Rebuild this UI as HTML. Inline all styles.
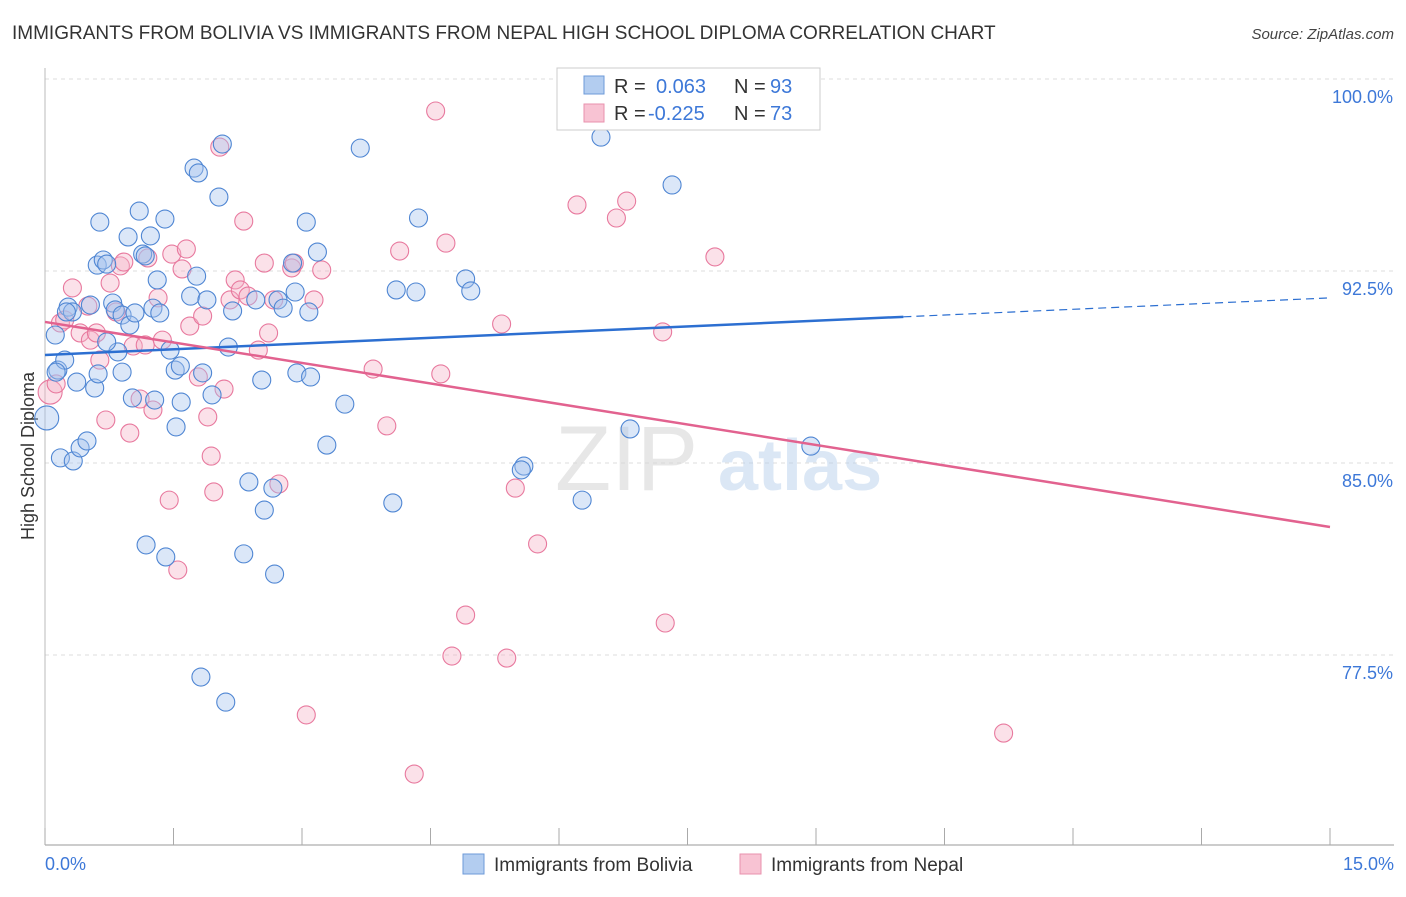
<!DOCTYPE html>
<html><head><meta charset="utf-8">
<style>
body{margin:0;background:#fff;font-family:"Liberation Sans",sans-serif;}
svg text{font-family:"Liberation Sans",sans-serif;}
</style></head>
<body>
<svg id="chart" width="1406" height="892" viewBox="0 0 1406 892" xmlns="http://www.w3.org/2000/svg">
<text x="12" y="39" font-size="19" fill="#333">IMMIGRANTS FROM BOLIVIA VS IMMIGRANTS FROM NEPAL HIGH SCHOOL DIPLOMA CORRELATION CHART</text>
<text x="1394" y="39" font-size="15" fill="#444" text-anchor="end" font-style="italic">Source: ZipAtlas.com</text>
<g id="grid"></g>
<g>
<text x="555" y="490" font-size="92" fill="#d8d8d8" font-family="Liberation Serif,serif" opacity="0.6">ZIP</text>
<text x="718" y="490" font-size="72" fill="#b8d0ec" opacity="0.5" font-weight="bold">atlas</text>
</g>
<line x1="45" y1="845" x2="1394" y2="845" stroke="#999" stroke-width="1"/>
<line x1="45" y1="68" x2="45" y2="845" stroke="#bbb" stroke-width="1"/>
<g id="xticks"></g>
<g id="yticks"></g>
<text transform="translate(34,456) rotate(-90)" font-size="18" fill="#333" text-anchor="middle">High School Diploma</text>
<text x="45" y="870" font-size="18" fill="#3d78d8">0.0%</text>
<text x="1394" y="870" font-size="18" fill="#3d78d8" text-anchor="end">15.0%</text>
<g id="pinkdots"></g>
<g id="bluedots"></g>
<g id="trends"></g>
<g>
<rect x="557" y="68" width="263" height="62" fill="#fff" stroke="#ccc"/>
<rect x="584" y="76" width="20" height="18" fill="#b3cdf0" stroke="#6d9ad8"/>
<rect x="584" y="104" width="20" height="18" fill="#f8c3d3" stroke="#e892ae"/>
<text x="614" y="93" font-size="20" fill="#333">R =</text><text x="656" y="93" font-size="20" fill="#3d78d8">0.063</text>
<text x="734" y="93" font-size="20" fill="#333">N =</text><text x="770" y="93" font-size="20" fill="#3d78d8">93</text>
<text x="614" y="120" font-size="20" fill="#333">R =</text><text x="648" y="120" font-size="20" fill="#3d78d8">-0.225</text>
<text x="734" y="120" font-size="20" fill="#333">N =</text><text x="770" y="120" font-size="20" fill="#3d78d8">73</text>
</g>
<g>
<rect x="463" y="854" width="21" height="20" fill="#b3cdf0" stroke="#6d9ad8"/>
<text x="494" y="871" font-size="19" fill="#333">Immigrants from Bolivia</text>
<rect x="740" y="854" width="21" height="20" fill="#f8c3d3" stroke="#e892ae"/>
<text x="771" y="871" font-size="19" fill="#333">Immigrants from Nepal</text>
</g>
</svg>
<script>
const yTicks = [100.0, 92.5, 85.0, 77.5];
const yTickLabels = ["100.0%", "92.5%", "85.0%", "77.5%"];
const xTickValues = [0,1.5,3,4.5,6,7.5,9,10.5,12,13.5,15];
const boliviaX = [0.02,0.12,0.15,0.23,0.27,0.32,0.37,0.18,0.33,0.41,0.49,0.58,0.64,0.61,0.68,0.72,0.79,0.82,0.85,0.90,0.90,0.97,0.99,1.02,1.05,1.10,1.14,1.17,1.23,1.26,1.28,1.31,1.34,1.40,1.46,1.52,1.53,1.58,1.59,1.70,1.74,1.77,1.79,1.84,1.89,1.95,2.03,2.07,2.14,2.19,2.38,2.46,2.53,2.56,2.66,2.72,2.78,2.89,2.92,2.94,3.08,3.10,3.05,3.18,3.50,3.29,3.68,4.06,4.10,4.33,4.36,4.91,4.97,5.59,5.56,6.27,6.49,6.83,7.32,8.94,1.18,1.41,2.32,2.68,1.82,2.11,0.13,0.25,0.53,0.62,0.72];
const boliviaY = [86.76,90.0,88.63,89.02,91.09,90.90,88.16,85.20,85.08,85.59,85.86,87.93,94.41,92.73,92.93,92.77,91.25,90.98,89.34,88.55,90.78,93.83,90.39,87.54,90.86,94.84,93.16,93.09,93.87,91.05,87.46,92.15,90.86,94.53,89.41,88.63,86.41,88.79,87.38,91.52,96.52,92.30,96.33,88.52,91.37,87.66,95.39,97.46,89.53,90.94,84.26,91.37,88.24,83.16,84.02,91.37,91.05,92.81,91.68,88.52,90.90,88.36,94.41,93.24,87.30,85.70,97.30,83.44,91.76,91.68,94.57,92.19,91.72,84.88,84.73,83.55,97.73,86.33,95.86,85.66,81.80,81.33,81.45,80.66,76.64,75.66,88.55,90.90,91.17,88.48,89.73];
const nepalX = [0.06,0.13,0.18,0.23,0.32,0.41,0.50,0.53,0.60,0.64,0.71,0.76,0.83,0.88,0.92,0.99,1.03,1.11,1.17,1.20,1.26,1.32,1.37,1.45,1.48,1.55,1.60,1.65,1.69,1.79,1.84,1.90,1.94,1.97,2.04,2.09,2.16,2.22,2.28,2.32,2.37,2.49,2.56,2.61,2.67,2.73,2.88,2.91,3.14,3.23,3.05,3.83,3.99,4.14,4.31,4.56,4.62,4.68,4.75,4.91,5.33,5.39,5.49,5.75,6.21,6.67,6.79,7.21,7.24,7.82,11.19,6.43];
const nepalY = [87.77,88.09,90.47,90.59,91.84,90.08,91.13,89.80,90.08,89.02,86.68,92.03,90.90,92.70,92.85,86.17,89.57,87.50,89.61,93.01,87.07,91.45,89.80,83.55,93.16,80.82,92.58,93.36,90.35,88.36,90.74,86.80,85.27,83.87,97.34,87.89,91.37,92.15,91.76,94.45,91.52,89.41,92.81,90.08,91.37,84.18,92.62,92.81,91.37,92.54,75.16,88.67,86.45,93.28,72.85,98.75,88.48,93.59,77.46,79.06,90.43,77.38,84.02,81.84,95.08,94.57,95.23,90.12,78.75,93.05,74.45,99.06];
const boliviaTrend = [89.22, 91.45];
const boliviaSolidEnd = 10.02;
const nepalTrend = [90.51, 82.5];

const NS="http://www.w3.org/2000/svg";
const xs = v => 45 + v/15*1285;
const ys = v => 79 + (100-v)*25.6;
function mk(tag, attrs, parent){const e=document.createElementNS(NS,tag);for(const k in attrs)e.setAttribute(k,attrs[k]);parent.appendChild(e);return e;}
const grid=document.getElementById('grid'), yt=document.getElementById('yticks'), xt=document.getElementById('xticks');
yTicks.forEach((t,i)=>{
  const l=mk('line',{x1:45,x2:1394,y1:ys(t),y2:ys(t),stroke:'#ddd','stroke-dasharray':'4,4'},grid);
  
  
  const tx=mk('text',{x:1393,y:ys(t)+24,'font-size':18,fill:'#3d78d8','text-anchor':'end'},yt);
  tx.textContent=yTickLabels[i];
  
  
});
const topLine=mk('line',{x1:45,x2:1394,y1:79,y2:79,stroke:'#ddd','stroke-dasharray':'4,4'},grid);


xTickValues.forEach(v=>{
  const l=mk('line',{x1:xs(v),x2:xs(v),y1:828,y2:845,stroke:'#aaa'},xt);
  
  
});
function dots(X,Y,g,fill,stroke,name){
  X.forEach((x,i)=>{
    const c=mk('circle',{cx:xs(x),cy:ys(Y[i]),r:(i===0?12:9),fill:fill,'fill-opacity':0.4,stroke:stroke,'stroke-width':1.1},g);
    
    
  });
}
dots(nepalX,nepalY,document.getElementById('pinkdots'),'#f6b4c8','#e8799e','nepal-point');
dots(boliviaX,boliviaY,document.getElementById('bluedots'),'#a4c4ee','#4f86d3','bolivia-point');
const tr=document.getElementById('trends');
const bAt=v=>boliviaTrend[0]+(boliviaTrend[1]-boliviaTrend[0])*v/15;
const b1=mk('line',{x1:xs(0),y1:ys(bAt(0)),x2:xs(boliviaSolidEnd),y2:ys(bAt(boliviaSolidEnd)),stroke:'#2c6fd1','stroke-width':2.5},tr);


const b2=mk('line',{x1:xs(boliviaSolidEnd),y1:ys(bAt(boliviaSolidEnd)),x2:xs(15),y2:ys(bAt(15)),stroke:'#2c6fd1','stroke-width':1.2,'stroke-dasharray':'8,5'},tr);


const p1=mk('line',{x1:xs(0),y1:ys(nepalTrend[0]),x2:xs(15),y2:ys(nepalTrend[1]),stroke:'#e2628f','stroke-width':2.5},tr);


</script>
</body></html>
